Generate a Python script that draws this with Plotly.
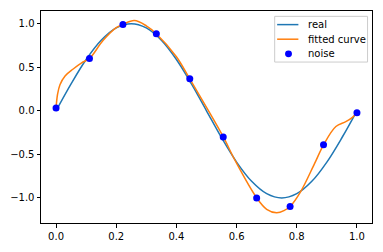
import plotly.graph_objects as go

# noisy samples
noise_x = [0.0, 0.1111, 0.2222, 0.3333, 0.4444, 0.5556, 0.6667, 0.7778, 0.8889, 1.0]
noise_y = [0.033, 0.60, 0.99, 0.884, 0.368, -0.30, -1.00, -1.097, -0.39, -0.022]

# real curve
real_x = [0.0, 0.05, 0.1, 0.15, 0.2, 0.25, 0.3, 0.35, 0.4, 0.45, 0.5,
          0.55, 0.6, 0.65, 0.7, 0.75, 0.8, 0.85, 0.9, 0.95, 1.0]
real_y = [0.0, 0.309, 0.588, 0.809, 0.951, 1.0, 0.951, 0.809, 0.588, 0.309, 0.0,
          -0.309, -0.588, -0.809, -0.951, -1.0, -0.951, -0.809, -0.588, -0.309, 0.0]

# fitted curve
fit_x = [0.0, 0.005, 0.013, 0.03, 0.057, 0.085, 0.111, 0.156, 0.2, 0.222, 0.26,
         0.30, 0.333, 0.40, 0.444, 0.50, 0.556, 0.595, 0.667, 0.70, 0.733, 0.76,
         0.778, 0.8125, 0.859, 0.889, 0.93, 0.963, 0.985, 1.0]
fit_y = [0.033, 0.19, 0.30, 0.40, 0.48, 0.55, 0.60, 0.806, 0.954, 0.99, 1.035,
         0.975, 0.884, 0.62, 0.368, 0.04, -0.30, -0.57, -1.0, -1.13, -1.17, -1.14,
         -1.097, -0.93, -0.606, -0.39, -0.18, -0.125, -0.075, -0.022]

x_ticks = [0.0, 0.2, 0.4, 0.6, 0.8, 1.0]
x_tick_text = ["0.0", "0.2", "0.4", "0.6", "0.8", "1.0"]
y_ticks = [-1.0, -0.5, 0.0, 0.5, 1.0]
y_tick_text = ["\u22121.0", "\u22120.5", "0.0", "0.5", "1.0"]

series_names = ["real", "fitted curve", "noise"]
series_colors = ["#1f77b4", "#ff7f0e", "#0000ff"]

W, H = 383, 252
ML, MR, MT, MB = 38, 10, 10, 24
PW, PH = W - ML - MR, H - MT - MB


def px(x):
    return (x - ML) / PW


def py(y):
    return (H - MB - y) / PH


fig = go.Figure()
fig.add_trace(go.Scatter(x=real_x, y=real_y, mode="lines", name=series_names[0],
                         line=dict(color=series_colors[0], width=1.5, shape="spline")))
fig.add_trace(go.Scatter(x=fit_x, y=fit_y, mode="lines", name=series_names[1],
                         line=dict(color=series_colors[1], width=1.5, shape="spline")))
fig.add_trace(go.Scatter(x=noise_x, y=noise_y, mode="markers", name=series_names[2],
                         marker=dict(color=series_colors[2], size=7)))

# custom legend (matplotlib-like spacing)
shapes = [dict(type="rect", xref="paper", yref="paper",
               x0=px(274.5), x1=px(368.5), y0=py(62.5), y1=py(15.5),
               line=dict(color="#cccccc", width=1), fillcolor="rgba(255,255,255,0.8)",
               layer="above")]
annotations = []
rows = [24, 39, 54]
for i, (name, color) in enumerate(zip(series_names, series_colors)):
    yy = rows[i]
    if i < 2:
        shapes.append(dict(type="line", xref="paper", yref="paper",
                           x0=px(277), x1=px(298.5), y0=py(yy), y1=py(yy),
                           line=dict(color=color, width=1.5), layer="above"))
    else:
        shapes.append(dict(type="circle", xref="paper", yref="paper",
                           x0=px(285), x1=px(292), y0=py(yy + 3.5), y1=py(yy - 3.5),
                           line=dict(color=color, width=0), fillcolor=color, layer="above"))
    annotations.append(dict(xref="paper", yref="paper", x=px(306), y=py(yy),
                            xanchor="left", yanchor="middle", text=name, showarrow=False,
                            font=dict(family="DejaVu Sans", size=10, color="black")))

axis_common = dict(showgrid=False, zeroline=False, showline=True, linecolor="black",
                   linewidth=1, mirror=True, ticks="outside", ticklen=3.5,
                   tickwidth=1, tickcolor="black",
                   tickfont=dict(family="DejaVu Sans", size=10, color="black"))

fig.update_layout(
    width=W, height=H,
    margin=dict(l=ML, r=MR, t=MT, b=MB),
    paper_bgcolor="white", plot_bgcolor="white",
    xaxis=dict(range=[-0.05, 1.05], tickvals=x_ticks, ticktext=x_tick_text, **axis_common),
    yaxis=dict(range=[-1.287, 1.145], tickvals=y_ticks, ticktext=y_tick_text, **axis_common),
    shapes=shapes, annotations=annotations,
    showlegend=False,
)

fig.write_html("out.html")
